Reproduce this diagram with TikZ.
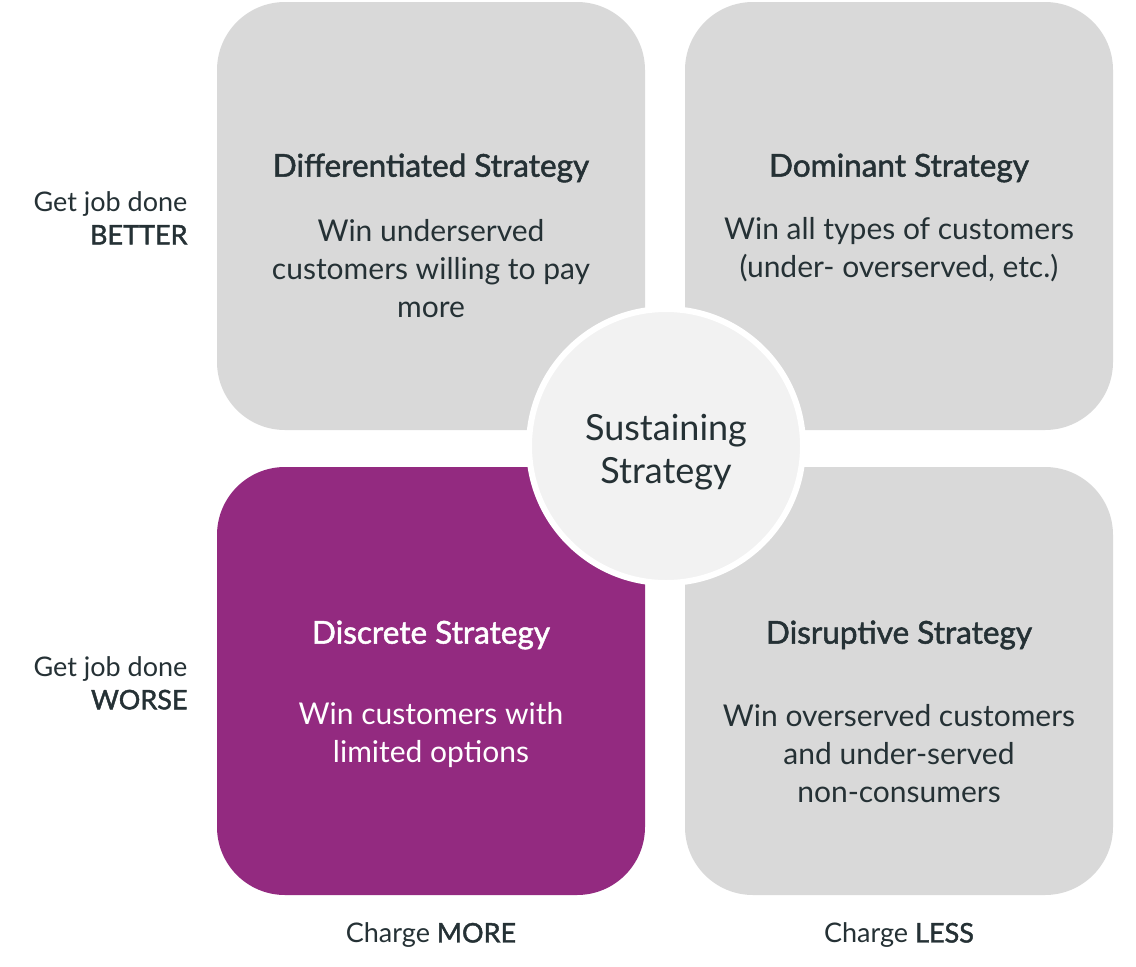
\documentclass[tikz,border=0pt]{standalone}
\usepackage{fontspec}
\setmainfont{Lato}
\newfontface\medium{Lato}[FakeBold=1.6]
\usepackage{xcolor}
\usepackage{tikz}
\usetikzlibrary{shadows}

\definecolor{boxgray}{HTML}{D9D9D9}
\definecolor{plum}{HTML}{932A80}
\definecolor{ink}{HTML}{253135}
\definecolor{disc}{HTML}{F2F2F2}

\begin{document}
\begin{tikzpicture}[x=1pt, y=-1pt,
    quad/.style={rounded corners=68pt},
    head/.style={font=\fontsize{31.5}{38}\selectfont\medium, text=ink},
    body/.style={font=\fontsize{30}{38}\selectfont, text=ink, align=center},
    side/.style={font=\fontsize{27}{33}\selectfont, text=ink, align=right, anchor=east}]
    \useasboundingbox (0,0) rectangle (1136,967);

    % the four quadrants
    \fill[boxgray, quad] (217,2) rectangle (645,430);
    \fill[boxgray, quad] (685,2) rectangle (1113,430);
    \fill[plum, quad] (217,467) rectangle (645,895);
    \fill[boxgray, quad] (685,467) rectangle (1113,895);

    \node[head] (diffhead) at (431,168) {Differentiated Strategy};
    \node[body] (difftext) at (431,269) {Win underserved\\customers willing to pay\\more};

    \node[head] (domhead) at (899,168) {Dominant Strategy};
    \node[body] (domtext) at (899,250) {Win all types of customers\\(under- overserved, etc.)};

    \node[head, text=white] (dischead) at (431,635) {Discrete Strategy};
    \node[body, text=white] (disctext) at (431,735) {Win customers with\\limited options};

    \node[head] (disrhead) at (899,635) {Disruptive Strategy};
    \node[body] (disrtext) at (899,754) {Win overserved customers\\and under-served\\non-consumers};

    % centre disc
    \node[circle, minimum size=274pt, fill=disc, draw=white, line width=6pt,
          drop shadow={opacity=0.12, shadow xshift=0pt, shadow yshift=-2pt}]
          (sustain) at (666,446) {};
    \node[font=\fontsize{36}{43}\selectfont, text=ink, align=center]
          (sustaintext) at ([yshift=-6pt]sustain.center) {Sustaining\\Strategy};

    % axis labels
    \node[side] (better) at (191,218) {Get job done\\{\medium BETTER}};
    \node[side] (worse) at (191,683) {Get job done\\{\medium WORSE}};
    \node[font=\fontsize{27}{33}\selectfont, text=ink] (more) at (431,935) {Charge {\medium MORE}};
    \node[font=\fontsize{27}{33}\selectfont, text=ink] (less) at (899,935) {Charge {\medium LESS}};
\end{tikzpicture}
\end{document}
